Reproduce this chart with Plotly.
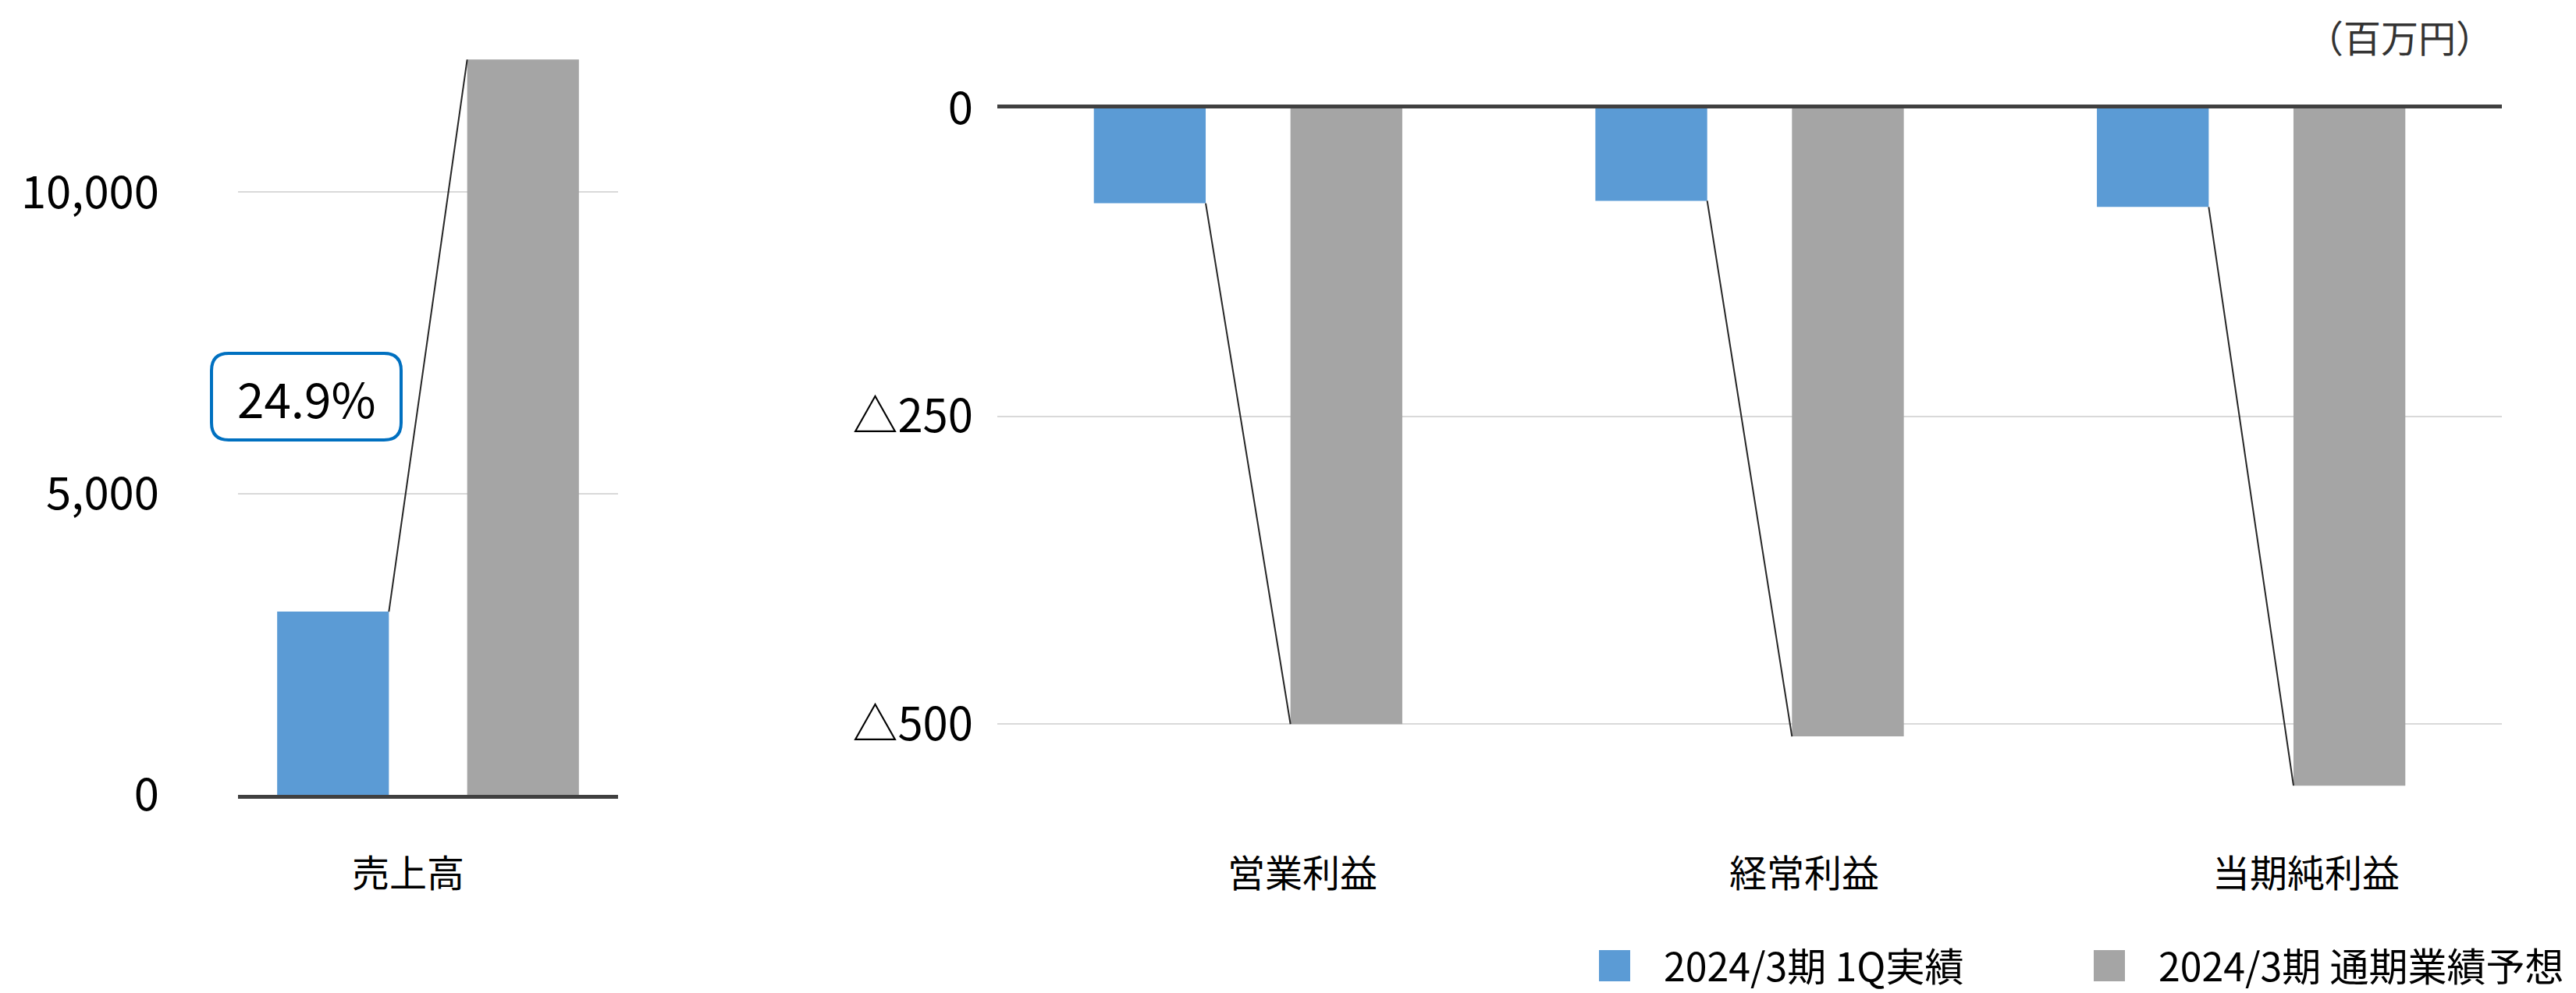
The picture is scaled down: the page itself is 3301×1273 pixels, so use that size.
import plotly.graph_objects as go

# ---------------- data ----------------
sales_cat = ["売上高"]
sales_actual = [3040]        # 2024/3期 1Q実績
sales_forecast = [12200]     # 2024/3期 通期業績予想
sales_ratio_label = "24.9%"

profit_cats = ["営業利益", "経常利益", "当期純利益"]
profit_actual = [-77, -75, -80]
profit_forecast = [-500, -510, -550]

series_names = ["2024/3期 1Q実績", "2024/3期 通期業績予想"]
left_ticks = [0, 5000, 10000]
left_ticktext = ["0", "5,000", "10,000"]
right_ticks = [0, -250, -500]
right_ticktext = ["0", "△250", "△500"]
unit_label = "（百万円）"

# ---------------- style ----------------
W, H = 3301, 1273
BLUE = "#5B9BD5"
GRAY = "#A5A5A5"
AXIS = "#404040"
GRID = "#D9D9D9"
FONT = "Noto Sans CJK JP"

def px_x(x):
    return x / W

def px_y(y):
    return 1 - y / H

fig = go.Figure()

# left chart bars
lw, loff = 0.294, 0.25
fig.add_trace(go.Bar(x=sales_cat, y=sales_actual, name=series_names[0], marker_color=BLUE,
                     width=lw, offset=-loff - lw / 2, xaxis="x", yaxis="y", showlegend=False))
fig.add_trace(go.Bar(x=sales_cat, y=sales_forecast, name=series_names[1], marker_color=GRAY,
                     width=lw, offset=loff - lw / 2, xaxis="x", yaxis="y", showlegend=False))

# right chart bars
rw, roff = 0.223, 0.196
fig.add_trace(go.Bar(x=profit_cats, y=profit_actual, name=series_names[0], marker_color=BLUE,
                     width=rw, offset=-roff - rw / 2, xaxis="x2", yaxis="y2", showlegend=False))
fig.add_trace(go.Bar(x=profit_cats, y=profit_forecast, name=series_names[1], marker_color=GRAY,
                     width=rw, offset=roff - rw / 2, xaxis="x2", yaxis="y2", showlegend=False))

shapes = []
# connector lines
for i in range(len(sales_cat)):
    shapes.append(dict(type="line", xref="x", yref="y",
                       x0=i - loff + lw / 2, y0=sales_actual[i],
                       x1=i + loff - lw / 2, y1=sales_forecast[i],
                       line=dict(color="#262626", width=2)))
for i in range(len(profit_cats)):
    shapes.append(dict(type="line", xref="x2", yref="y2",
                       x0=i - roff + rw / 2, y0=profit_actual[i],
                       x1=i + roff - rw / 2, y1=profit_forecast[i],
                       line=dict(color="#262626", width=2)))

# rounded box for ratio
bx0, bx1, by0, by1, r = 271, 514, 453, 564, 22
def P(x, y):
    return f"{px_x(x):.5f},{px_y(y):.5f}"
path = (f"M {P(bx0 + r, by0)} L {P(bx1 - r, by0)} Q {P(bx1, by0)} {P(bx1, by0 + r)} "
        f"L {P(bx1, by1 - r)} Q {P(bx1, by1)} {P(bx1 - r, by1)} "
        f"L {P(bx0 + r, by1)} Q {P(bx0, by1)} {P(bx0, by1 - r)} "
        f"L {P(bx0, by0 + r)} Q {P(bx0, by0)} {P(bx0 + r, by0)} Z")
shapes.append(dict(type="path", xref="paper", yref="paper", path=path,
                   line=dict(color="#0070C0", width=4), fillcolor="white", layer="above"))

# legend squares
leg_sq = [(2069, 1238, BLUE), (2703, 1238, GRAY)]
for cx, cy, col in leg_sq:
    shapes.append(dict(type="rect", xref="paper", yref="paper",
                       x0=px_x(cx - 20), x1=px_x(cx + 20), y0=px_y(cy + 20), y1=px_y(cy - 20),
                       fillcolor=col, line=dict(width=0)))

annotations = []
annotations.append(dict(xref="paper", yref="paper", x=px_x((bx0 + bx1) / 2), y=px_y((by0 + by1) / 2),
                        text=sales_ratio_label, showarrow=False, xanchor="center", yanchor="middle",
                        font=dict(family=FONT, size=62, color="black")))
# category labels
cat_y = px_y(1116)
for c in sales_cat:
    annotations.append(dict(xref="x", yref="paper", x=c, y=cat_y, xshift=-26, text=c,
                            showarrow=False, xanchor="center", yanchor="middle",
                            font=dict(family=FONT, size=48, color="black")))
for c in profit_cats:
    annotations.append(dict(xref="x2", yref="paper", x=c, y=cat_y, xshift=70, text=c,
                            showarrow=False, xanchor="center", yanchor="middle",
                            font=dict(family=FONT, size=48, color="black")))
# unit
annotations.append(dict(xref="paper", yref="paper", x=px_x(3075), y=px_y(46), text=unit_label,
                        showarrow=False, xanchor="center", yanchor="middle",
                        font=dict(family=FONT, size=48, color="#333333")))
# legend text
for (cx, cy, col), name in zip(leg_sq, series_names):
    annotations.append(dict(xref="paper", yref="paper", x=px_x(cx + 61), y=px_y(cy - 2), text=name,
                            showarrow=False, xanchor="left", yanchor="middle",
                            font=dict(family=FONT, size=50, color="black")))

fig.update_layout(
    template="none",
    width=W, height=H,
    margin=dict(l=0, r=0, t=0, b=0, pad=0, autoexpand=False),
    paper_bgcolor="white", plot_bgcolor="white",
    showlegend=False,
    barmode="overlay",
    font=dict(family=FONT, color="black"),
    xaxis=dict(domain=[305 / W, 792 / W], range=[-0.5, 0.5], type="category", automargin=False,
               showticklabels=False, showgrid=False, zeroline=False,
               showline=True, linecolor=AXIS, linewidth=5, ticks=""),
    yaxis=dict(domain=[0.19953, 0.95829], range=[0, 12500], tickvals=left_ticks, automargin=False,
               ticktext=left_ticktext, showgrid=True, gridcolor=GRID, gridwidth=2,
               zeroline=False, showline=False, ticks="", ticklabelstandoff=100,
               tickfont=dict(family=FONT, size=58, color="black")),
    xaxis2=dict(domain=[1278 / W, 3206 / W], range=[-0.5, 2.5], type="category",
                anchor="y2", side="top", automargin=False,
                showticklabels=False, showgrid=False, zeroline=False,
                showline=True, linecolor=AXIS, linewidth=5, ticks=""),
    yaxis2=dict(domain=[0.19639, 0.89081], range=[-560, 0], anchor="x2", automargin=False,
                tickvals=right_ticks, ticktext=right_ticktext,
                showgrid=True, gridcolor=GRID, gridwidth=2,
                zeroline=False, showline=False, ticks="", ticklabelstandoff=30,
                tickfont=dict(family=FONT, size=58, color="black")),
    shapes=shapes,
    annotations=annotations,
)

fig.write_html("out.html")
